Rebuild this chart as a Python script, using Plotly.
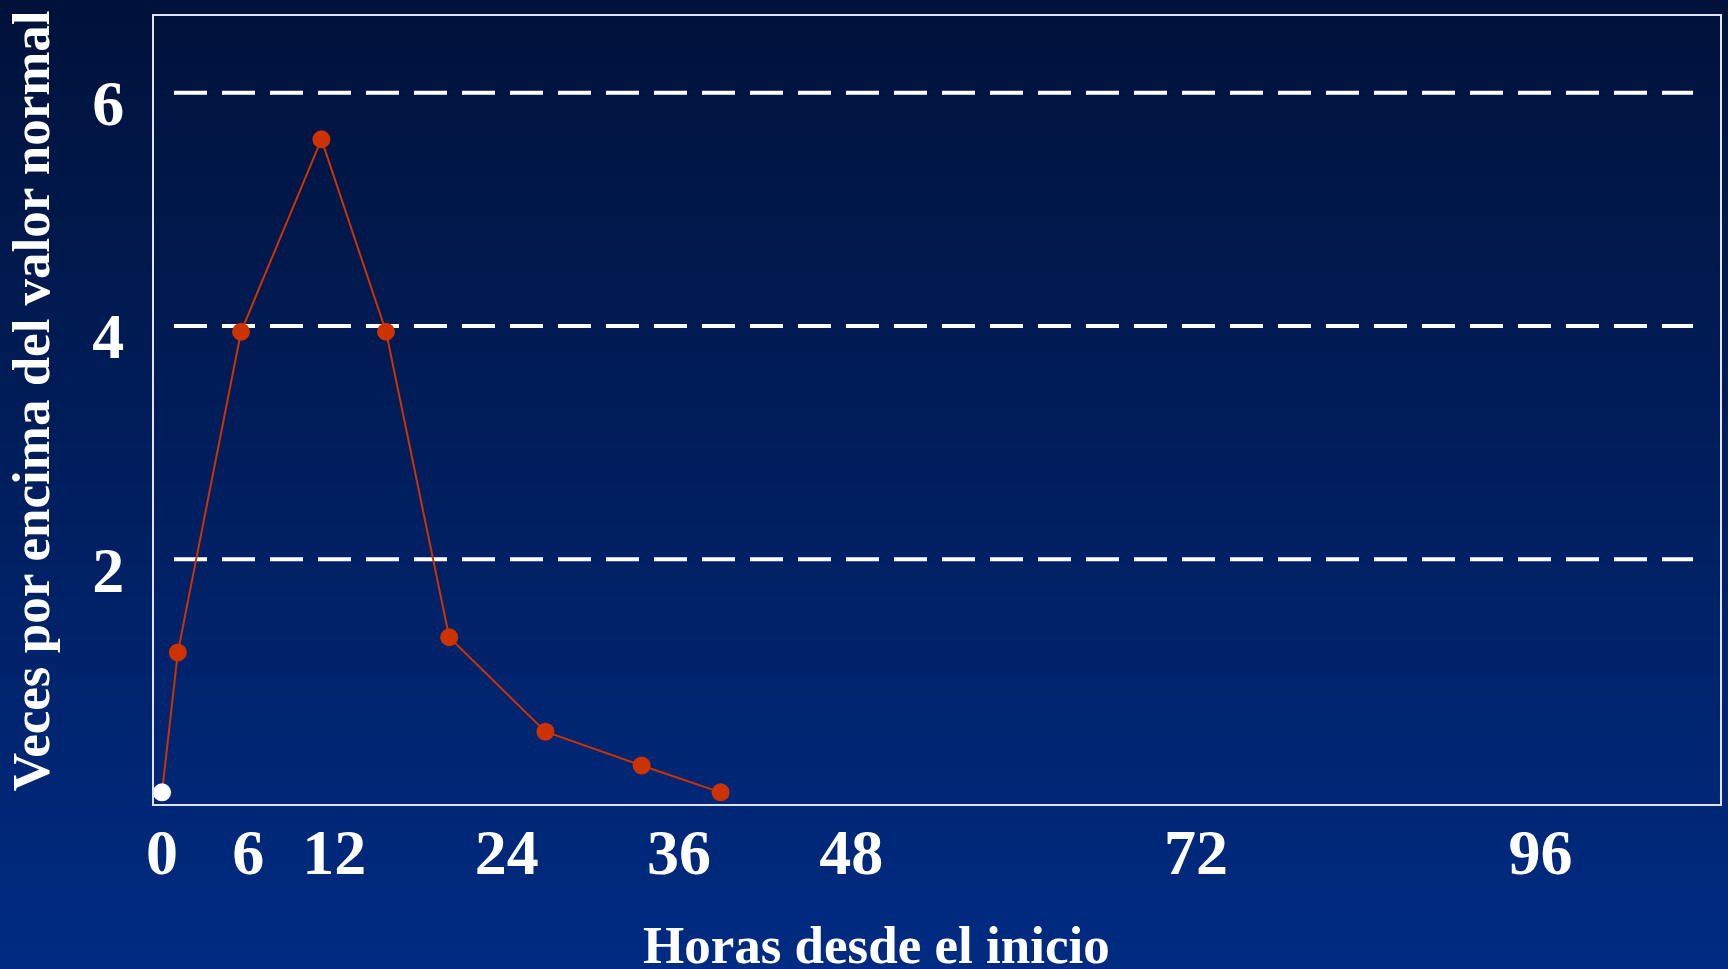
import plotly.graph_objects as go

# Hours since onset and fold increase above the normal value
hours = [0, 1.1, 5.5, 11.1, 15.6, 20.0, 26.7, 33.4, 38.9]
fold_increase = [0, 1.2, 3.95, 5.6, 3.95, 1.33, 0.52, 0.23, 0]

x_tick_values = [0, 6, 12, 24, 36, 48, 72, 96]
x_tick_labels = ["0", "6", "12", "24", "36", "48", "72", "96"]
y_tick_values = [2, 4, 6]
y_tick_labels = ["2", "4", "6"]
reference_levels = [2, 4, 6]

x_title = "Horas desde el inicio"
y_title = "Veces por encima del valor normal"

W, H = 1728, 969
ML, MR, MT, MB = 154, 6, 16, 165

RED = "#cc3300"
FONT = "Liberation Serif"

marker_colors = ["white"] + [RED] * (len(hours) - 1)

fig = go.Figure()
fig.add_trace(go.Scatter(
    x=hours, y=fold_increase, mode="lines+markers",
    line=dict(color=RED, width=2),
    marker=dict(size=18, color=marker_colors, line=dict(width=0)),
    showlegend=False, hoverinfo="x+y",
))

# Vertical gradient background, dark navy at the top to royal blue at the bottom
top_rgb = (0, 18, 58)
bot_rgb = (0, 43, 130)
n_bands = 120
pw = W - ML - MR
ph = H - MT - MB
y_top = 1 + MT / ph
y_bot = -MB / ph
shapes = []
for i in range(n_bands):
    t = i / (n_bands - 1)
    c = tuple(round(top_rgb[k] + (bot_rgb[k] - top_rgb[k]) * t) for k in range(3))
    ya = y_top - (y_top - y_bot) * i / n_bands
    yb = y_top - (y_top - y_bot) * (i + 1) / n_bands
    shapes.append(dict(
        type="rect", xref="paper", yref="paper",
        x0=-0.2, x1=1.1, y0=yb - 0.002, y1=ya + 0.002,
        fillcolor="rgb(%d,%d,%d)" % c, line=dict(width=0), layer="below",
    ))

# Dashed reference lines
for lvl in reference_levels:
    shapes.append(dict(
        type="line", xref="x domain", yref="y",
        x0=(174 - ML) / pw, x1=(1695 - ML) / pw, y0=lvl, y1=lvl,
        line=dict(color="white", width=4, dash="33px,15px"), layer="below",
    ))

annotations = [
    dict(text=y_title, xref="paper", yref="paper",
         x=(31 - ML) / pw, y=(H - MB - 401) / ph, xanchor="center", yanchor="middle",
         textangle=-90, showarrow=False,
         font=dict(family=FONT, size=53, color="white", weight="bold")),
    dict(text=x_title, xref="paper", yref="paper",
         x=(877 - ML) / pw, y=(H - MB - 945) / ph, xanchor="center", yanchor="middle",
         showarrow=False,
         font=dict(family=FONT, size=53, color="white", weight="bold")),
]

fig.update_layout(
    width=W, height=H,
    margin=dict(l=ML, r=MR, t=MT, b=MB, pad=0),
    paper_bgcolor="rgb(0,43,130)",
    plot_bgcolor="rgba(0,0,0,0)",
    shapes=shapes,
    annotations=annotations,
    xaxis=dict(
        range=[-0.56, 108.5], tickmode="array",
        tickvals=x_tick_values, ticktext=x_tick_labels,
        showgrid=False, zeroline=False, ticks="",
        showline=True, mirror=True, linecolor="#dfe3ee", linewidth=2,
        ticklabelstandoff=-9,
        tickfont=dict(family=FONT, size=64, color="white", weight="bold"),
    ),
    yaxis=dict(
        range=[-0.10, 6.658], tickmode="array",
        tickvals=y_tick_values, ticktext=y_tick_labels,
        showgrid=False, zeroline=False, ticks="",
        showline=True, mirror=True, linecolor="#dfe3ee", linewidth=2,
        ticklabelstandoff=15, ticklabelshift=10,
        tickfont=dict(family=FONT, size=64, color="white", weight="bold"),
    ),
)

fig.write_html("out.html")
